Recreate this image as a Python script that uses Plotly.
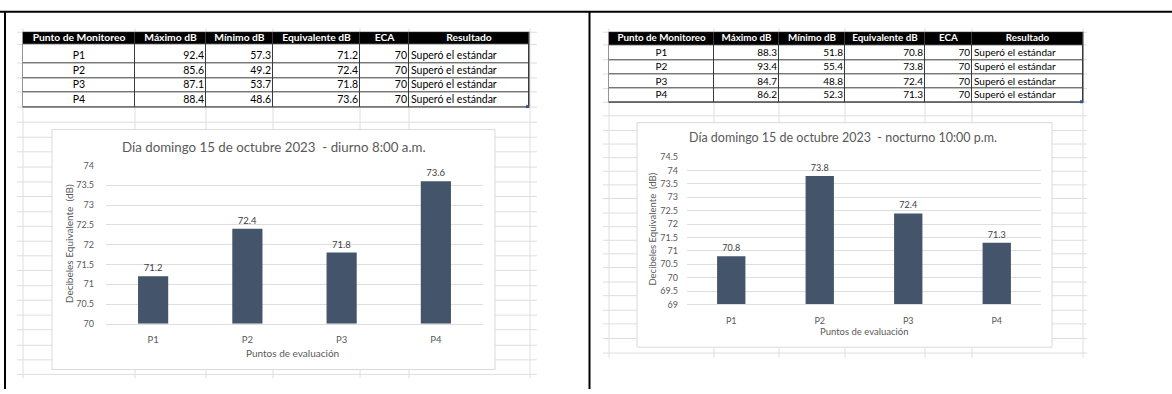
import plotly.graph_objects as go

W, H = 1172, 394

# ---- data -------------------------------------------------------------
puntos = ["P1", "P2", "P3", "P4"]
encabezados = ["Punto de Monitoreo", "Máximo dB", "Mínimo dB", "Equivalente dB", "ECA", "Resultado"]

diurno_max = [92.4, 85.6, 87.1, 88.4]
diurno_min = [57.3, 49.2, 53.7, 48.6]
diurno_eq = [71.2, 72.4, 71.8, 73.6]

nocturno_max = [88.3, 93.4, 84.7, 86.2]
nocturno_min = [51.8, 55.4, 48.8, 52.3]
nocturno_eq = [70.8, 73.8, 72.4, 71.3]

eca = [70, 70, 70, 70]
resultado = ["Superó el estándar"] * 4

titulo_diurno = "Día domingo 15 de octubre 2023  - diurno 8:00 a.m."
titulo_nocturno = "Día domingo 15 de octubre 2023  - nocturno 10:00 p.m."
eje_y = "Decibeles Equivalente  (dB)"
eje_x = "Puntos de evaluación"

# ---- sheet geometry (screen pixels) ------------------------------------
IZQ_COLS = [23, 135, 206, 273, 360, 409, 529]
IZQ_FILAS = [27, 39.5, 58.7, 74, 88.3, 104]
DER_COLS = [609, 714, 779, 845, 925, 972, 1083]
DER_FILAS = [27, 40, 55.3, 70, 85, 99]


def px(x):
    return x / W


def py(y):
    return 1 - y / H


FONT = "Lato, 'Open Sans', sans-serif"
GRID = "#dedede"
TXT = "#595959"
BAR = "#44546a"
BORDE = "#3a3a3a"

fig = go.Figure()
layout_axes = {}
shapes = []

# ---- spreadsheet grid (drawn first, underneath everything) ------------
def line(x0, y0, x1, y1, color=GRID, width=1, layer="below"):
    shapes.append(dict(type="line", xref="paper", yref="paper",
                       x0=px(x0), y0=py(y0), x1=px(x1), y1=py(y1),
                       line=dict(color=color, width=width), layer=layer))


izq_filas_hoja = IZQ_FILAS + [119.5, 135, 150, 165.7, 181, 196, 211.7, 226.7, 242,
                              257, 272, 287.7, 302.7, 318, 333, 349, 364, 379]
for y in izq_filas_hoja:
    line(17, y, 537, y)
for x in IZQ_COLS[:-1] + [530]:
    line(x, 23, x, 383)

der_filas_hoja = DER_FILAS + [113, 128, 142, 156, 170, 184, 198, 213, 227, 241,
                              255, 269, 284, 298, 313, 327, 342, 357]
for y in der_filas_hoja:
    line(603, y, 1087, y)
for x in DER_COLS:
    line(x, 23, x, 362)

# chart boxes
for (x0, y0, x1, y1) in [(52, 127, 495, 374), (637, 120, 1052, 351)]:
    shapes.append(dict(type="rect", xref="paper", yref="paper",
                       x0=px(x0), y0=py(y1), x1=px(x1), y1=py(y0),
                       fillcolor="white", line=dict(color="#d9d9d9", width=1),
                       layer="below"))


# ---- tables: one cartesian subplot each, axis units = screen pixels ----
def tabla(n, cols, filas, maxs, mins, eqs, fh, fb, pad_txt):
    xa, ya = f"x{n}", f"y{n}"
    layout_axes[f"xaxis{n}"] = dict(
        domain=[px(cols[0] - 0.5), px(cols[-1] + 0.5)],
        range=[cols[0] - 0.5, cols[-1] + 0.5],
        visible=False, fixedrange=True, anchor=ya)
    layout_axes[f"yaxis{n}"] = dict(
        domain=[py(filas[-1] + 0.5), py(filas[0] - 0.5)],
        range=[filas[-1] + 0.5, filas[0] - 0.5],
        visible=False, fixedrange=True, anchor=xa)

    # border colour shows through the gaps between cells
    shapes.append(dict(type="rect", xref=f"{xa} domain", yref=f"{ya} domain",
                       x0=0, x1=1, y0=0, y1=1, fillcolor=BORDE,
                       line=dict(width=0), layer="below"))

    ncol = len(encabezados)
    z = [[1] * ncol] + [[0] * ncol for _ in puntos]
    fig.add_trace(go.Heatmap(
        x=cols, y=filas, z=z, xaxis=xa, yaxis=ya,
        colorscale=[[0, "white"], [1, "black"]], zmin=0, zmax=1,
        xgap=1, ygap=1, showscale=False, hoverinfo="skip",
    ))

    centros = [(a + b) / 2 for a, b in zip(cols[:-1], cols[1:])]
    y_head = filas[1] - pad_txt
    y_rows = [b - pad_txt for b in filas[2:]]

    # header
    fig.add_trace(go.Scatter(
        x=centros, y=[y_head] * ncol, xaxis=xa, yaxis=ya, mode="text",
        text=[f"<b>{h}</b>" for h in encabezados], textposition="middle center",
        textfont=dict(family=FONT, size=fh, color="white"),
        hoverinfo="skip", showlegend=False,
    ))

    columnas = [
        (puntos, "center"),
        ([f"{v:.1f}" for v in maxs], "right"),
        ([f"{v:.1f}" for v in mins], "right"),
        ([f"{v:.1f}" for v in eqs], "right"),
        ([str(v) for v in eca], "right"),
        (resultado, "left"),
    ]
    for c, (vals, al) in enumerate(columnas):
        if al == "center":
            xs, pos = centros[c], "middle center"
        elif al == "right":
            xs, pos = cols[c + 1] - 2, "middle left"
        else:
            xs, pos = cols[c] + 2, "middle right"
        fig.add_trace(go.Scatter(
            x=[xs] * len(vals), y=y_rows, xaxis=xa, yaxis=ya, mode="text",
            text=vals, textposition=pos,
            textfont=dict(family=FONT, size=fb, color="black"),
            hoverinfo="skip", showlegend=False,
        ))


tabla(3, IZQ_COLS, IZQ_FILAS, diurno_max, diurno_min, diurno_eq, 10.3, 10.5, 6.5)
tabla(4, DER_COLS, DER_FILAS, nocturno_max, nocturno_min, nocturno_eq, 9.8, 10, 6.5)

# ---- bar charts -------------------------------------------------------
fig.add_trace(go.Bar(
    x=puntos, y=[v - 70 for v in diurno_eq], base=70, xaxis="x", yaxis="y",
    marker=dict(color=BAR, line=dict(width=0)),
    text=diurno_eq, texttemplate="%{text}", textposition="outside", cliponaxis=False,
    textfont=dict(family=FONT, size=9.5, color="#404040"),
    showlegend=False,
))
fig.add_trace(go.Bar(
    x=puntos, y=[v - 69 for v in nocturno_eq], base=69, xaxis="x2", yaxis="y2",
    marker=dict(color=BAR, line=dict(width=0)),
    text=nocturno_eq, texttemplate="%{text}", textposition="outside", cliponaxis=False,
    textfont=dict(family=FONT, size=9, color="#404040"),
    showlegend=False,
))

xcommon = dict(type="category", showgrid=False, showline=True, linecolor=GRID,
               linewidth=1, ticks="", zeroline=False, fixedrange=True)
ycommon = dict(showgrid=True, gridcolor=GRID, gridwidth=1, zeroline=False,
               showline=False, ticks="", dtick=0.5, fixedrange=True)

fig.update_layout(
    xaxis=dict(xcommon, domain=[px(106), px(483)], anchor="y",
               tickfont=dict(family=FONT, size=9.5, color=TXT), ticklabelstandoff=7),
    yaxis=dict(ycommon, domain=[py(327), py(164)], anchor="x", range=[70, 74],
               tickfont=dict(family=FONT, size=9, color=TXT), ticklabelstandoff=11),
    xaxis2=dict(xcommon, domain=[px(687), px(1041)], anchor="y2",
                tickfont=dict(family=FONT, size=9, color=TXT), ticklabelstandoff=8),
    yaxis2=dict(ycommon, domain=[py(307), py(155.5)], anchor="x2", range=[69, 74.5],
                tickfont=dict(family=FONT, size=9, color=TXT), ticklabelstandoff=8),
    bargap=0.68,
    **layout_axes,
)

# ---- page frame and table resize handles -------------------------------
line(0, 6, W, 6, color="black", width=2, layer="above")
line(5, 6, 5, H, color="black", width=2, layer="above")
line(589.5, 6, 589.5, H, color="black", width=2, layer="above")

for (x, y) in [(IZQ_COLS[-1], IZQ_FILAS[-1]), (DER_COLS[-1], DER_FILAS[-1])]:
    shapes.append(dict(type="rect", xref="paper", yref="paper",
                       x0=px(x - 3), y0=py(y + 1), x1=px(x), y1=py(y - 2),
                       fillcolor="#2f5597", line=dict(width=0), layer="above"))

fig.update_layout(shapes=shapes)

# ---- chart titles and axis titles -------------------------------------
ann = [
    dict(text=titulo_diurno, x=px(274), y=py(145), size=13.3),
    dict(text=titulo_nocturno, x=px(843), y=py(135), size=12.5),
    dict(text=eje_x, x=px(292), y=py(357), size=10),
    dict(text=eje_x, x=px(864), y=py(335), size=9.5),
    dict(text=eje_y, x=px(69), y=py(245), size=10, angle=-90),
    dict(text=eje_y, x=px(653), y=py(230), size=9.5, angle=-90),
]
fig.update_layout(annotations=[
    dict(text=a["text"], x=a["x"], y=a["y"], xref="paper", yref="paper",
         xanchor="center", yanchor="middle", showarrow=False,
         textangle=a.get("angle", 0),
         font=dict(family=FONT, size=a["size"], color=TXT))
    for a in ann
])

fig.update_layout(
    width=W, height=H, autosize=False,
    margin=dict(l=0, r=0, t=0, b=0),
    paper_bgcolor="white", plot_bgcolor="rgba(0,0,0,0)",
    font=dict(family=FONT, color=TXT),
    showlegend=False,
)

fig.write_html("out.html", config=dict(displayModeBar=False, staticPlot=True))
